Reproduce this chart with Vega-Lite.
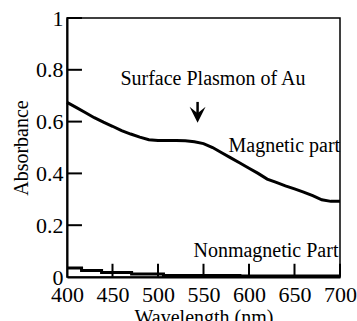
{
  "$schema": "https://vega.github.io/schema/vega-lite/v6.json",
  "width": 273,
  "height": 259,
  "autosize": "none",
  "padding": {"left": 67, "top": 18, "right": 17, "bottom": 44},
  "background": "white",
  "config": {
    "font": "Liberation Serif",
    "view": {"stroke": "black", "strokeWidth": 1.5},
    "axis": {
      "domainColor": "black",
      "domainWidth": 2,
      "ticks": false,
      "labelColor": "black",
      "labelFont": "Liberation Serif",
      "labelFontSize": 22,
      "labelFlush": false,
      "labelOverlap": false,
      "titleFont": "Liberation Serif",
      "titleFontSize": 20,
      "titleFontWeight": "normal",
      "titleColor": "black",
      "grid": false
    }
  },
  "datasets": {
    "magnetic": [
      {"wl": 400, "abs": 0.674},
      {"wl": 410, "abs": 0.655},
      {"wl": 420, "abs": 0.635},
      {"wl": 430, "abs": 0.615},
      {"wl": 440, "abs": 0.598},
      {"wl": 450, "abs": 0.582},
      {"wl": 460, "abs": 0.565},
      {"wl": 470, "abs": 0.552},
      {"wl": 480, "abs": 0.54},
      {"wl": 490, "abs": 0.53},
      {"wl": 500, "abs": 0.527},
      {"wl": 510, "abs": 0.527},
      {"wl": 520, "abs": 0.527},
      {"wl": 530, "abs": 0.526},
      {"wl": 540, "abs": 0.522},
      {"wl": 550, "abs": 0.515},
      {"wl": 560, "abs": 0.5},
      {"wl": 570, "abs": 0.48},
      {"wl": 580, "abs": 0.46},
      {"wl": 590, "abs": 0.44},
      {"wl": 600, "abs": 0.42},
      {"wl": 610, "abs": 0.4},
      {"wl": 620, "abs": 0.378},
      {"wl": 630, "abs": 0.365},
      {"wl": 640, "abs": 0.352},
      {"wl": 650, "abs": 0.34},
      {"wl": 660, "abs": 0.328},
      {"wl": 670, "abs": 0.314},
      {"wl": 680, "abs": 0.298},
      {"wl": 690, "abs": 0.292},
      {"wl": 700, "abs": 0.292}
    ],
    "nonmagnetic": [
      {"wl": 400, "abs": 0.035},
      {"wl": 416, "abs": 0.025},
      {"wl": 438, "abs": 0.017},
      {"wl": 471, "abs": 0.012},
      {"wl": 506, "abs": 0.006},
      {"wl": 590, "abs": 0.004},
      {"wl": 700, "abs": 0.004}
    ],
    "labels": [
      {"wl": 458.7, "abs": 0.742, "text": "Surface Plasmon of Au"},
      {"wl": 577.5, "abs": 0.483, "text": "Magnetic part"},
      {"wl": 539, "abs": 0.077, "text": "Nonmagnetic Part"}
    ],
    "arrow": [
      {"wl": 543.5, "top": 0.676, "bottom": 0.62, "head": 0.626}
    ],
    "xticks": [
      {"wl": 450}, {"wl": 500}, {"wl": 550}, {"wl": 600}, {"wl": 650}, {"wl": 700}
    ],
    "yticks": [
      {"abs": 0.2}, {"abs": 0.4}, {"abs": 0.6}, {"abs": 0.8}, {"abs": 1}
    ]
  },
  "resolve": {"axis": {"x": "independent", "y": "independent"}},
  "layer": [
    {
      "data": {"name": "magnetic"},
      "mark": {"type": "line", "color": "black", "strokeWidth": 3},
      "encoding": {
        "x": {
          "field": "wl",
          "type": "quantitative",
          "scale": {"domain": [400, 700], "nice": false, "zero": false},
          "axis": {
            "values": [400, 450, 500, 550, 600, 650, 700],
            "title": "Wavelength (nm)",
            "labelPadding": 7,
            "titlePadding": 2
          }
        },
        "y": {
          "field": "abs",
          "type": "quantitative",
          "scale": {"domain": [0, 1], "nice": false},
          "axis": {
            "values": [0, 0.2, 0.4, 0.6, 0.8, 1],
            "format": "~g",
            "title": "Absorbance",
            "labelPadding": 4,
            "titlePadding": 4
          }
        }
      }
    },
    {
      "data": {"name": "nonmagnetic"},
      "mark": {"type": "line", "color": "black", "strokeWidth": 3, "interpolate": "step-after"},
      "encoding": {
        "x": {"field": "wl", "type": "quantitative", "axis": null},
        "y": {"field": "abs", "type": "quantitative", "axis": null}
      }
    },
    {
      "data": {"name": "xticks"},
      "mark": {"type": "tick", "color": "black", "orient": "vertical", "size": 13, "thickness": 2, "opacity": 1},
      "encoding": {
        "x": {"field": "wl", "type": "quantitative", "axis": null},
        "y": {"datum": 0.026, "type": "quantitative", "axis": null}
      }
    },
    {
      "data": {"name": "yticks"},
      "mark": {"type": "tick", "color": "black", "orient": "horizontal", "size": 15, "thickness": 2, "opacity": 1},
      "encoding": {
        "y": {"field": "abs", "type": "quantitative", "axis": null},
        "x": {"datum": 408.2, "type": "quantitative", "axis": null}
      }
    },
    {
      "data": {"name": "labels"},
      "mark": {"type": "text", "align": "left", "baseline": "alphabetic", "fontSize": 20, "font": "Liberation Serif", "color": "black"},
      "encoding": {
        "x": {"field": "wl", "type": "quantitative", "axis": null},
        "y": {"field": "abs", "type": "quantitative", "axis": null},
        "text": {"field": "text"}
      }
    },
    {
      "data": {"name": "arrow"},
      "mark": {"type": "rule", "color": "black", "strokeWidth": 2.5},
      "encoding": {
        "x": {"field": "wl", "type": "quantitative", "axis": null},
        "y": {"field": "top", "type": "quantitative", "axis": null},
        "y2": {"field": "bottom"}
      }
    },
    {
      "data": {"name": "arrow"},
      "mark": {"type": "point", "filled": true, "color": "black", "opacity": 1, "size": 256, "shape": "M-1,-1 L0,-0.2 L1,-1 L0,1 Z"},
      "encoding": {
        "x": {"field": "wl", "type": "quantitative", "axis": null},
        "y": {"field": "head", "type": "quantitative", "axis": null}
      }
    }
  ]
}
